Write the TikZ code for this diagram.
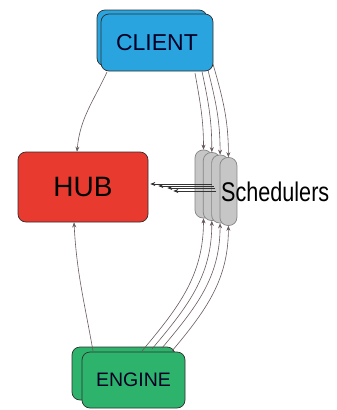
\documentclass[tikz,border=0pt]{standalone}
\usepackage{fontspec}
\setmainfont{Liberation Sans}
\newfontfamily\condfont[FakeStretch=0.8]{Liberation Sans}
\usetikzlibrary{arrows.meta,calc}
\definecolor{clientblue}{HTML}{2AA4DE}
\definecolor{hubred}{HTML}{E93A30}
\definecolor{enginegreen}{HTML}{2DB36B}
\definecolor{pillgray}{HTML}{C6C6C6}
\definecolor{pillborder}{HTML}{858585}
\definecolor{linkcol}{HTML}{6A5C5C}
\definecolor{boxborder}{HTML}{2E2E2E}
\tikzset{
  box/.style={draw=boxborder, line width=0.7pt, rounded corners=8pt, inner sep=0pt},
  pill/.style={draw=pillborder, fill=pillgray, line width=0.7pt, rounded corners=8pt,
    minimum width=17pt, minimum height=68pt, inner sep=0pt},
  link/.style={draw=linkcol, line width=0.6pt, -{Stealth[length=5pt,width=4pt]}},
  hlink/.style={link, draw=black!80},
  lbl/.style={text=black!85!blue}
}
\begin{document}
\begin{tikzpicture}[x=1pt,y=-1pt]
\useasboundingbox (0,0) rectangle (337,410);
\fill[white] (0,0) rectangle (337,410);
% CLIENT
\node[box, fill=clientblue, minimum width=110pt, minimum height=56pt] (clientb) at (152,38) {};
\node[box, fill=clientblue, minimum width=112pt, minimum height=57pt, font=\fontsize{23}{23}\selectfont, lbl] (client) at (157,42.5) {CLIENT};
% HUB
\node[box, fill=hubred, minimum width=130pt, minimum height=70pt, font=\fontsize{28}{28}\selectfont] (hub) at (83,187) {HUB};
% ENGINE
\node[box, fill=enginegreen, minimum width=103pt, minimum height=53pt] (engineb) at (123.5,373.5) {};
\node[box, fill=enginegreen, minimum width=103pt, minimum height=56pt, font=\fontsize{19.5}{19.5}\selectfont, lbl] (engine) at (133.5,380) {ENGINE};
% Schedulers
\node[pill] (p0) at (203.5,184) {};
\node[pill] (p1) at (211.8,186.5) {};
\node[pill] (p2) at (220.1,189) {};
\node[pill] (p3) at (228.4,191.5) {};
\node[anchor=west, inner sep=0pt, font=\condfont\fontsize{27}{27}\selectfont] (sched) at (221,192) {Schedulers};
% coordinates
\coordinate (cs0) at (195,73);
\coordinate (cs1) at (202,71.5);
\coordinate (cs2) at (208,70);
\coordinate (cs3) at (213,64);
\coordinate (es0) at (142,351);
\coordinate (es1) at (152,349);
\coordinate (es2) at (162,348);
\coordinate (es3) at (172,351);
\coordinate (ch) at (107,72);
\coordinate (eh) at (93,351);
% CLIENT -> schedulers
\draw[link] (cs0) to[out=-80,in=90] (p0.north);
\draw[link] (cs1) to[out=-78,in=90] (p1.north);
\draw[link] (cs2) to[out=-76,in=90] (p2.north);
\draw[link] (cs3) to[out=-74,in=90] (p3.north);
% ENGINE -> schedulers
\draw[link] (es0) to[out=50,in=-90] (p0.south);
\draw[link] (es1) to[out=50,in=-90] (p1.south);
\draw[link] (es2) to[out=50,in=-90] (p2.south);
\draw[link] (es3) to[out=50,in=-90] (p3.south);
% CLIENT -> HUB, ENGINE -> HUB
\draw[link] (ch) to[out=-115,in=85] ($(hub.north)+(-6,0)$);
\draw[link] (eh) to[out=100,in=-87] ($(hub.south)+(-9,0)$);
% schedulers -> HUB
\draw[hlink] ($(p0.center)+(8,0)$) -- ($(hub.east)+(2,-3)$);
\draw[hlink] ($(p1.center)+(2,-0.5)$) -- ($(hub.east)+(10,-1)$);
\draw[hlink] ($(p2.center)+(-5,-1)$) -- ($(hub.east)+(19,1)$);
\draw[hlink] ($(p3.center)+(-12,-0.5)$) -- ($(hub.east)+(25,4)$);
\end{tikzpicture}
\end{document}
